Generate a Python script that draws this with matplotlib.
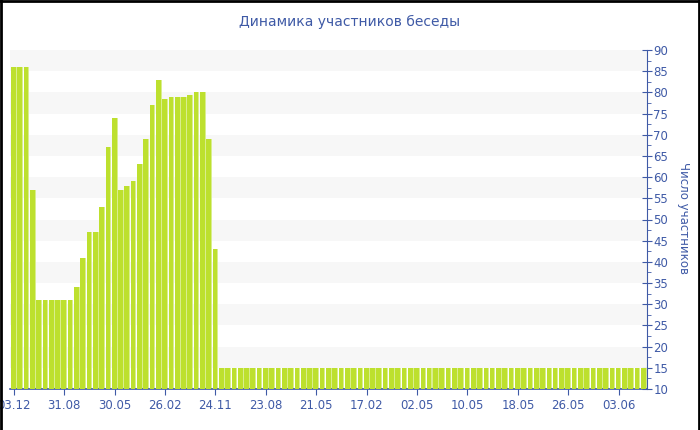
import matplotlib
matplotlib.use("Agg")
import matplotlib.pyplot as plt
from matplotlib.lines import Line2D
from matplotlib.ticker import MultipleLocator

title = "Динамика участников беседы"
ylabel = "Число участников"

values = [86, 86, 86, 57, 31, 31, 31, 31, 31, 31, 34, 41, 47, 47, 53, 67, 74, 57, 58, 59,
          63, 69, 77, 83, 78.5, 79, 79, 79, 79.3, 80, 80, 69, 43] + [15] * 68
tick_labels = ["03.12", "31.08", "30.05", "26.02", "24.11", "23.08", "21.05",
               "17.02", "02.05", "10.05", "18.05", "26.05", "03.06"]
tick_step = 8

blue = "#3f5aa6"
green = "#bde02e"
light_green = "#d9ee8e"

fig = plt.figure(figsize=(7, 4.3), dpi=100)
ax = fig.add_axes([10 / 700, 41 / 430, 637 / 700, 339 / 430])

n = len(values)
xs = list(range(n))
ax.bar(xs, [v - 10 for v in values], bottom=10, width=0.9, color=light_green, zorder=2)
ax.bar([x - 0.45 for x in xs], [v - 10 for v in values], bottom=10, width=0.74,
       align="edge", color=green, zorder=3)

ax.set_xlim(-0.62, n - 0.5)
ax.set_ylim(10, 90)

# alternating bands
for lo in range(15, 90, 10):
    ax.axhspan(lo, lo + 5, color="#f7f7f7", zorder=0, lw=0)

ax.yaxis.tick_right()
ax.yaxis.set_label_position("right")
ax.yaxis.set_major_locator(MultipleLocator(5))
ax.yaxis.set_minor_locator(MultipleLocator(2.5))
ax.tick_params(axis="y", which="major", direction="inout", length=7, color=blue,
               labelcolor=blue, labelsize=8.5, pad=1)
ax.tick_params(axis="y", which="minor", direction="out", length=3, color=blue)

ax.set_xticks(list(range(0, tick_step * len(tick_labels), tick_step)))
ax.set_xticklabels(tick_labels)
ax.tick_params(axis="x", direction="out", length=4, color=blue, labelcolor=blue,
               labelsize=8.5, pad=3)

for s in ["top", "left"]:
    ax.spines[s].set_visible(False)
ax.spines["right"].set_color(blue)
ax.spines["bottom"].set_color(blue)
ax.spines["bottom"].set_linewidth(1.2)

ax.set_ylabel(ylabel, rotation=-90, color=blue, fontsize=8.5, va="center")
ax.yaxis.set_label_coords(1.057, 0.505)
fig.text(0.5, 1 - 22 / 430, title, ha="center", va="center", color=blue, fontsize=10)

# figure frame (left, top, right)
for xd, yd in [([0.001, 0.001], [0, 1]), ([0, 1], [0.998, 0.998]), ([0.998, 0.998], [0, 1])]:
    fig.add_artist(Line2D(xd, yd, transform=fig.transFigure, color="black", linewidth=2))

fig.savefig("out.png", dpi=100)
